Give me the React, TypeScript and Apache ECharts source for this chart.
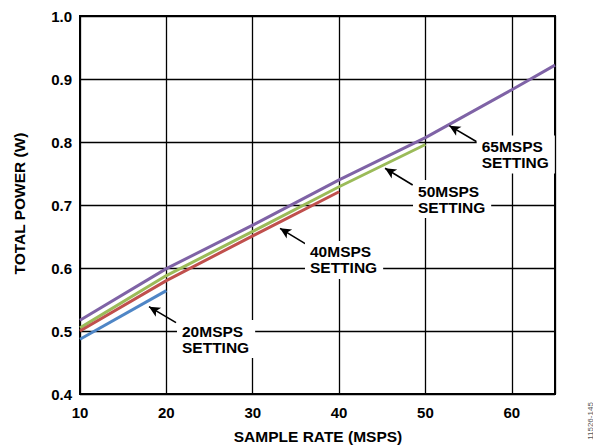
import React, { useEffect, useRef } from "react";
import * as echarts from "echarts";

// Sample rate (MSPS) and total power (W) for each clock setting
const rate65 = [10, 20, 30, 40, 50, 60, 65];
const power65 = [0.517, 0.599, 0.668, 0.74, 0.807, 0.883, 0.922];
const rate50 = [10, 20, 30, 40, 50];
const power50 = [0.505, 0.588, 0.658, 0.729, 0.796];
const rate40 = [10, 20, 30, 40];
const power40 = [0.5, 0.58, 0.651, 0.721];
const rate20 = [10, 20];
const power20 = [0.487, 0.564];

const seriesNames = ["65MSPS SETTING", "50MSPS SETTING", "40MSPS SETTING", "20MSPS SETTING"];
const seriesColors = ["#7f63a6", "#9bbb59", "#c0504d", "#4f86c6"];

// Annotation label anchors (left edge, middle) and arrows (tail -> head), in data units
const labelTexts = ["65MSPS\nSETTING", "50MSPS\nSETTING", "40MSPS\nSETTING", "20MSPS\nSETTING"];
const labelAnchors = [
  [55.93, 0.78],
  [48.56, 0.7095],
  [36.05, 0.6127],
  [21.23, 0.4873],
];
const arrowTails = [
  [55.93, 0.8005],
  [48.52, 0.7317],
  [36.17, 0.638],
  [21.12, 0.5132],
];
const arrowHeads = [
  [52.76, 0.8259],
  [45.32, 0.7583],
  [33.16, 0.663],
  [17.99, 0.5386],
];

const xTicks = { min: 10, max: 65, interval: 10 };
const yTicks = { min: 0.4, max: 1.0, interval: 0.1 };

const FONT = "'Liberation Sans', Arial, Helvetica, sans-serif";

export default function App() {
  const ref = useRef<HTMLDivElement>(null);
  useEffect(() => {
    if (!ref.current) return;
    const chart = echarts.init(ref.current, undefined, { renderer: "svg" });
    const rates = [rate65, rate50, rate40, rate20];
    const powers = [power65, power50, power40, power20];
    const series = rates.map((r, i) => ({
      name: seriesNames[i],
      type: "line",
      data: r.map((x, j) => [x, powers[i][j]]),
      showSymbol: false,
      symbol: "none",
      lineStyle: { color: seriesColors[i], width: 3 },
      itemStyle: { color: seriesColors[i] },
      z: 3,
      markLine: {
        silent: true,
        symbol: ["none", "arrow"],
        symbolSize: [8, 11],
        label: { show: false },
        lineStyle: { color: "#000", width: 1.6, type: "solid" },
        data: [
          [
            { coord: arrowTails[i] },
            { coord: arrowHeads[i] },
          ],
        ],
      },
      markPoint: {
        silent: true,
        symbol: "circle",
        symbolSize: 0,
        itemStyle: { color: "transparent" },
        label: {
          show: true,
          position: "right",
          distance: 0,
          formatter: labelTexts[i],
          color: "#000",
          fontFamily: FONT,
          fontWeight: "bold",
          fontSize: 15.5,
          lineHeight: 16,
          align: "left",
          backgroundColor: "#fff",
          padding: [3, 6, 3, 5],
        },
        data: [{ coord: labelAnchors[i] }],
      },
    }));

    chart.setOption({
      animation: false,
      backgroundColor: "#fff",
      grid: {
        left: 80,
        top: 16,
        right: 38,
        bottom: 51,
        show: true,
        borderColor: "#000",
        borderWidth: 2,
        backgroundColor: "transparent",
      },
      xAxis: {
        type: "value",
        min: xTicks.min,
        max: xTicks.max,
        interval: xTicks.interval,
        axisLine: { show: true, lineStyle: { color: "#000", width: 2 } },
        axisTick: { show: false },
        splitLine: { show: true, lineStyle: { color: "#000", width: 1.3 } },
        axisLabel: {
          showMaxLabel: false,
          color: "#000",
          fontFamily: FONT,
          fontWeight: "bold",
          fontSize: 15,
          margin: 11,
        },
      },
      yAxis: {
        type: "value",
        min: yTicks.min,
        max: yTicks.max,
        interval: yTicks.interval,
        axisLine: { show: true, lineStyle: { color: "#000", width: 2 } },
        axisTick: { show: false },
        splitLine: { show: true, lineStyle: { color: "#000", width: 1.3 } },
        axisLabel: {
          color: "#000",
          fontFamily: FONT,
          fontWeight: "bold",
          fontSize: 15,
          margin: 8,
          formatter: (v: number) => v.toFixed(1),
        },
      },
      graphic: [
        {
          type: "text",
          x: 19,
          y: 203.5,
          rotation: Math.PI / 2,
          style: {
            text: "TOTAL POWER (W)",
            fill: "#000",
            font: `bold 15.5px ${FONT}`,
            textAlign: "center",
            textVerticalAlign: "middle",
          },
        },
        {
          type: "text",
          x: 318,
          y: 436.5,
          style: {
            text: "SAMPLE RATE (MSPS)",
            fill: "#000",
            font: `bold 15.5px ${FONT}`,
            textAlign: "center",
            textVerticalAlign: "middle",
          },
        },
        {
          type: "text",
          x: 590,
          y: 421,
          rotation: Math.PI / 2,
          style: {
            text: "11526-145",
            fill: "#555",
            font: `8px ${FONT}`,
            textAlign: "center",
            textVerticalAlign: "middle",
          },
        },
      ],
      series,
    });
    return () => chart.dispose();
  }, []);
  return (
    <div
      ref={ref}
      style={{ position: "fixed", left: 0, top: 0, width: 593, height: 445, background: "#fff" }}
    />
  );
}
